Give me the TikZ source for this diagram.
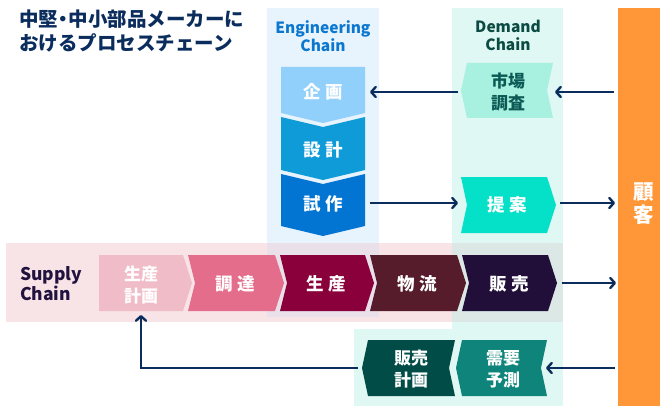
\documentclass[tikz,border=0pt]{standalone}
\usepackage{fontspec}
\setmainfont{Noto Sans CJK JP}
\usetikzlibrary{arrows.meta}
\definecolor{navy}{HTML}{0B2D5E}
\definecolor{custor}{HTML}{FF9739}
\definecolor{engbg}{HTML}{E7F3FD}
\definecolor{dembg}{HTML}{E0F8F3}
\definecolor{supbg}{HTML}{F8E3E7}
\definecolor{engsup}{HTML}{E9E0EA}
\definecolor{demsup}{HTML}{DBE8E6}
\definecolor{eA}{HTML}{92D0FC}
\definecolor{eB}{HTML}{0F9BD7}
\definecolor{eC}{HTML}{0275D3}
\definecolor{sA}{HTML}{F0BCC7}
\definecolor{sB}{HTML}{E36D8B}
\definecolor{sC}{HTML}{8A003B}
\definecolor{sD}{HTML}{561C2B}
\definecolor{sE}{HTML}{210E39}
\definecolor{dA}{HTML}{A8F0DF}
\definecolor{dB}{HTML}{05E0C8}
\definecolor{dC}{HTML}{024C47}
\definecolor{dD}{HTML}{0E847A}
\definecolor{dtext}{HTML}{0C4A44}
\definecolor{mkttext}{HTML}{0C5A55}
\definecolor{engtext}{HTML}{0B77CF}
\definecolor{suptext}{HTML}{22133E}
\newcommand\gap{\hspace{5pt}}
% right-pointing chevron: fill, xL, xR, yT, yB, notch
\newcommand\rchev[6]{\fill[#1] (#2,#4) -- (#3,#4) -- ({#3+9},{(#4+#5)/2}) -- (#3,#5) -- (#2,#5) -- ({#2+#6},{(#4+#5)/2}) -- cycle;}
% left-pointing chevron: fill, xL, xR, yT, yB
\newcommand\lchev[5]{\fill[#1] (#2,{(#4+#5)/2}) -- ({#2+6},#4) -- (#3,#4) -- ({#3-6},{(#4+#5)/2}) -- (#3,#5) -- ({#2+6},#5) -- cycle;}
% down-pointing chevron: fill, yT, yB, notch
\newcommand\dchev[4]{\fill[#1] (281,#2) -- (323,{#2+#4}) -- (365,#2) -- (365,#3) -- (323,{#3+10}) -- (281,#3) -- cycle;}
\begin{document}
\begin{tikzpicture}[x=1pt,y=-1pt,
  lbl/.style={font=\fontsize{17.5}{21}\selectfont\bfseries, text=white, inner sep=0pt},
  lbltwo/.style={font=\fontsize{17}{22}\selectfont\bfseries, text=white, inner sep=0pt, align=center},
  arr/.style={draw=navy, line width=2.4pt, -{Straight Barb[length=4.5pt,width=10pt,round]}},
  chainlbl/.style={font=\fontsize{15.5}{18}\selectfont\bfseries, inner sep=0pt, align=center},
  titlestyle/.style={anchor=base west, font=\fontsize{19.5}{24}\selectfont\bfseries, text=navy, inner sep=0pt}]
\useasboundingbox (0,0) rectangle (660,406);
% panels
\fill[engbg] (267,8) rectangle (379,317);
\fill[dembg] (452,8) rectangle (563,406);
\fill[dembg] (354,329) rectangle (563,406);
\fill[supbg] (6,243) rectangle (563,322);
\fill[engsup] (267,243) rectangle (379,317);
\fill[demsup] (452,243) rectangle (563,322);
\node[fill=custor, minimum width=42pt, minimum height=398pt, inner sep=0pt] (cust) at (639,207) {};
\node[font=\fontsize{20.5}{23}\selectfont\bfseries, text=white, align=center, inner sep=0pt] (custlbl) at (644,204) {顧\\客};
% title
\node[titlestyle] (title1) at (19,27) {中堅\makebox[0.55em]{・}中小部品メーカーに};
\node[titlestyle] (title2) at (19,51) {おけるプロセスチェーン};
% chain labels
\node[chainlbl, text=engtext] (englbl) at (323,36) {Engineering\\Chain};
\node[chainlbl, text=dtext] (demlbl) at (508,35) {Demand\\Chain};
\node[font=\fontsize{17.5}{20}\selectfont\bfseries, text=suptext, inner sep=0pt, align=left, anchor=west] (suplbl) at (20,284) {Supply\\Chain};
% engineering chain
\dchev{eA}{67}{113}{0}
\dchev{eB}{117}{170}{10}
\dchev{eC}{174}{226}{10}
\node[lbl] (kikaku) at (323,92) {企\gap 画};
\node[lbl] (sekkei) at (323,150) {設\gap 計};
\node[lbl] (shisaku) at (323,204) {試\gap 作};
% demand chain
\lchev{dA}{461}{553}{63}{118}
\rchev{dB}{461}{547}{177}{233}{6}
\lchev{dC}{362}{455}{340}{396}
\lchev{dD}{456}{547}{340}{396}
\node[lbltwo, text=mkttext] (shijo) at (508,92) {市場\\調査};
\node[lbl] (teian) at (507,205) {提\gap 案};
\node[lbltwo] (hankei) at (411,369) {販売\\計画};
\node[lbltwo] (juyo) at (503,369) {需要\\予測};
% supply chain
\rchev{sA}{99}{183}{255}{311}{0}
\rchev{sB}{188}{275}{255}{311}{7}
\rchev{sC}{280}{365}{255}{311}{7}
\rchev{sD}{370}{457}{255}{311}{7}
\rchev{sE}{462}{548}{255}{311}{7}
\node[lbltwo] (seikei) at (141,285) {生産\\計画};
\node[lbl] (chotatsu) at (235,284) {調\gap 達};
\node[lbl] (seisan) at (326,284) {生\gap 産};
\node[lbl] (butsuryu) at (417,284) {物\gap 流};
\node[lbl] (hanbai) at (509,284) {販\gap 売};
% connector ends
\coordinate (c1) at (614,92);
\coordinate (shijoE) at (555,92);
\coordinate (shijoW) at (458,92);
\coordinate (kikakuE) at (370,92);
\coordinate (shisakuE) at (370,203);
\coordinate (teianW) at (458,203);
\coordinate (teianE) at (560,203);
\coordinate (c2) at (615,203);
\coordinate (hanbaiE) at (562,283);
\coordinate (c3) at (616,283);
\coordinate (c4) at (615,368);
\coordinate (juyoE) at (546,368);
\coordinate (hankeiW) at (358,368);
\coordinate (seikeiS) at (141,315);
% connectors
\draw[arr] (c1) -- (shijoE);
\draw[arr] (shijoW) -- (kikakuE);
\draw[arr] (shisakuE) -- (teianW);
\draw[arr] (teianE) -- (c2);
\draw[arr] (hanbaiE) -- (c3);
\draw[arr] (c4) -- (juyoE);
\draw[arr] (hankeiW) -| (seikeiS);
\end{tikzpicture}
\end{document}
